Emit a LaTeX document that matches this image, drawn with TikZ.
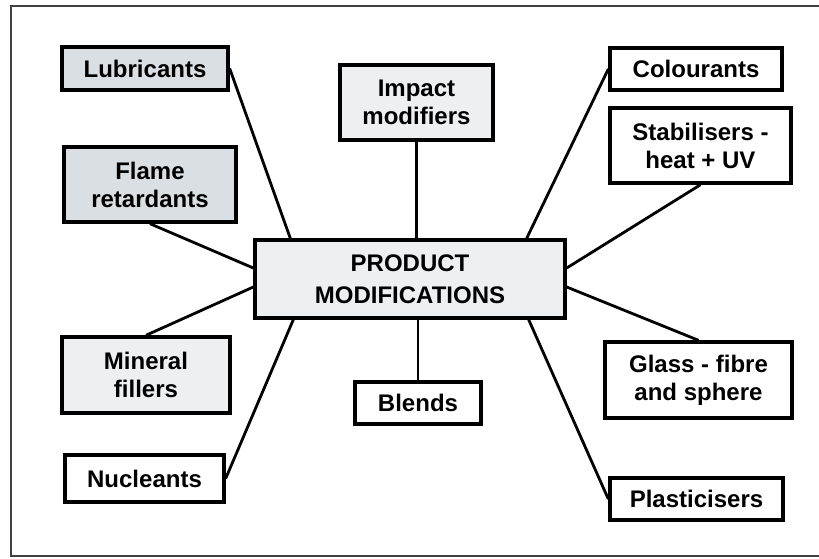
\documentclass[tikz,border=0pt]{standalone}
\usepackage{fontspec}
\setmainfont{Liberation Sans}
\usepackage{tikz}
\usetikzlibrary{positioning}

\definecolor{shadegray}{HTML}{DADFE4}
\definecolor{palegray}{HTML}{EDEFF1}

\begin{document}
\begin{tikzpicture}
    [
      x=1pt, y=-1pt,
      item/.style={draw, line width=3.4pt, align=center, inner sep=0pt,
        font=\fontsize{24}{28}\selectfont\bfseries, minimum height=43pt},
      shaded/.style={item, fill=shadegray},
      pale/.style={item, fill=palegray},
      plain/.style={item, fill=white},
      link/.style={line width=2.8pt},
    ]

    \useasboundingbox (0,0) rectangle (819,558);
    \draw [line width=2.2pt, gray!50!black] (11,6) rectangle (830,556); %frame

    \node (prod) [pale, minimum width=310pt, minimum height=78pt,
      font=\fontsize{24}{32}\selectfont\bfseries] at (410,279) {PRODUCT\\MODIFICATIONS};

    \node (lub) [shaded, minimum width=166pt] at (145,68.5) {Lubricants};
    \node (flame) [shaded, minimum width=172pt, minimum height=75pt] at (150,184.5) {Flame\\retardants};
    \node (impact) [pale, minimum width=153pt, minimum height=75pt] at (416.5,102.5) {Impact\\modifiers};
    \node (colour) [plain, minimum width=172pt, minimum height=42pt] at (696,69) {Colourants};
    \node (stab) [plain, minimum width=181pt, minimum height=75pt] at (700.5,145.5) {Stabilisers -\\heat + UV};
    \node (mineral) [pale, minimum width=168pt, minimum height=76pt] at (146,375) {Mineral\\fillers};
    \node (nucl) [plain, minimum width=159pt, minimum height=47pt] at (144.5,478.5) {Nucleants};
    \node (blends) [plain, minimum width=126pt, minimum height=42pt] at (418,403) {Blends};
    \node (glass) [plain, minimum width=187pt, minimum height=76pt] at (698.5,380) {Glass - fibre\\and sphere};
    \node (plast) [plain, minimum width=173pt, minimum height=42pt] at (696.5,499) {Plasticisers};

    \path
    (lub.east) edge [link] ([xshift=37pt]prod.north west)
    (flame.south) edge [link] ([yshift=11pt]prod.west)
    (impact.south) edge [link] (impact.south |- prod.north)
    (colour.west) edge [link] ([xshift=-40pt]prod.north east)
    (stab.south) edge [link] ([yshift=11pt]prod.east)
    (mineral.north) edge [link] ([yshift=-8pt]prod.west)
    (nucl.east) edge [link] ([xshift=40pt]prod.south west)
    (blends.north |- prod.south) edge [link] (blends.north)
    ([yshift=-8pt]prod.east) edge [link] (glass.north)
    ([xshift=-38pt]prod.south east) edge [link] (plast.west)
    ;

\end{tikzpicture}
\end{document}
